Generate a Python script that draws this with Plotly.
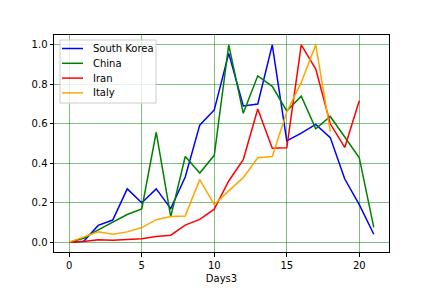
import plotly.graph_objects as go

days = list(range(22))
south_korea = [0.0, 0.005, 0.085, 0.112, 0.27, 0.2, 0.27, 0.17, 0.33, 0.593, 0.67, 0.957, 0.69, 0.70, 1.0, 0.513, 0.553, 0.597, 0.53, 0.32, 0.19, 0.04]
china = [0.0, 0.02, 0.062, 0.10, 0.14, 0.168, 0.557, 0.128, 0.434, 0.35, 0.44, 1.0, 0.653, 0.843, 0.79, 0.665, 0.74, 0.575, 0.637, 0.533, 0.428, 0.075]
iran = [0.0, 0.003, 0.012, 0.01, 0.013, 0.017, 0.028, 0.035, 0.086, 0.115, 0.167, 0.31, 0.418, 0.675, 0.476, 0.478, 1.0, 0.877, 0.6, 0.48, 0.717]
italy = [0.0, 0.024, 0.052, 0.04, 0.052, 0.074, 0.114, 0.13, 0.133, 0.317, 0.19, 0.26, 0.327, 0.428, 0.434, 0.66, 0.81, 1.0, 0.56]

series_names = ["South Korea", "China", "Iran", "Italy"]
series_values = [south_korea, china, iran, italy]
series_colors = ["#0000ff", "#008000", "#ff0000", "#ffa500"]

W, H = 432, 288
ML, MR, MT, MB = 54, 43, 35, 36
PW, PH = W - ML - MR, H - MT - MB


def px(xp):
    return (xp - ML) / PW


def py(yp):
    return (H - MB - yp) / PH


fig = go.Figure()
for name, vals, color in zip(series_names, series_values, series_colors):
    fig.add_trace(go.Scatter(x=days[:len(vals)], y=vals, mode="lines", name=name,
                             line=dict(color=color, width=1.5), showlegend=False))

# matplotlib-style legend box
shapes = [dict(type="rect", xref="paper", yref="paper", layer="above",
               x0=px(60), x1=px(156), y0=py(103), y1=py(40),
               fillcolor="rgba(255,255,255,0.8)", line=dict(color="#cccccc", width=1))]
annotations = []
row_y = [48.5, 63.3, 78.1, 92.9]
for name, color, yy in zip(series_names, series_colors, row_y):
    shapes.append(dict(type="line", xref="paper", yref="paper", layer="above",
                       x0=px(62), x1=px(83), y0=py(yy), y1=py(yy),
                       line=dict(color=color, width=1.5)))
    annotations.append(dict(xref="paper", yref="paper", x=px(91), y=py(yy),
                            xanchor="left", yanchor="middle", text=name, showarrow=False,
                            font=dict(size=10, color="black")))

axis_common = dict(
    showline=True, mirror=True, linecolor="black", linewidth=1,
    ticks="outside", ticklen=3.5, tickcolor="black", tickwidth=1,
    showgrid=True, gridcolor="rgba(0,128,0,0.5)", gridwidth=1,
    zeroline=False, tickfont=dict(size=10, color="black"), automargin=False,
)

fig.update_layout(
    width=W, height=H,
    margin=dict(l=ML, r=MR, t=MT, b=MB, pad=0),
    paper_bgcolor="white", plot_bgcolor="white",
    font=dict(family="DejaVu Sans", size=10, color="black"),
    xaxis=dict(range=[-1.05, 22.05], tickvals=[0, 5, 10, 15, 20],
               title=dict(text="Days3", font=dict(size=10), standoff=5), **axis_common),
    yaxis=dict(range=[-0.05, 1.05], tickvals=[0, 0.2, 0.4, 0.6, 0.8, 1.0],
               tickformat=".1f", **axis_common),
    shapes=shapes,
    annotations=annotations,
    showlegend=False,
    hovermode=False,
)

fig.write_html("out.html", config={"displayModeBar": False, "staticPlot": True},
               post_script="document.body.style.margin='0px';")
